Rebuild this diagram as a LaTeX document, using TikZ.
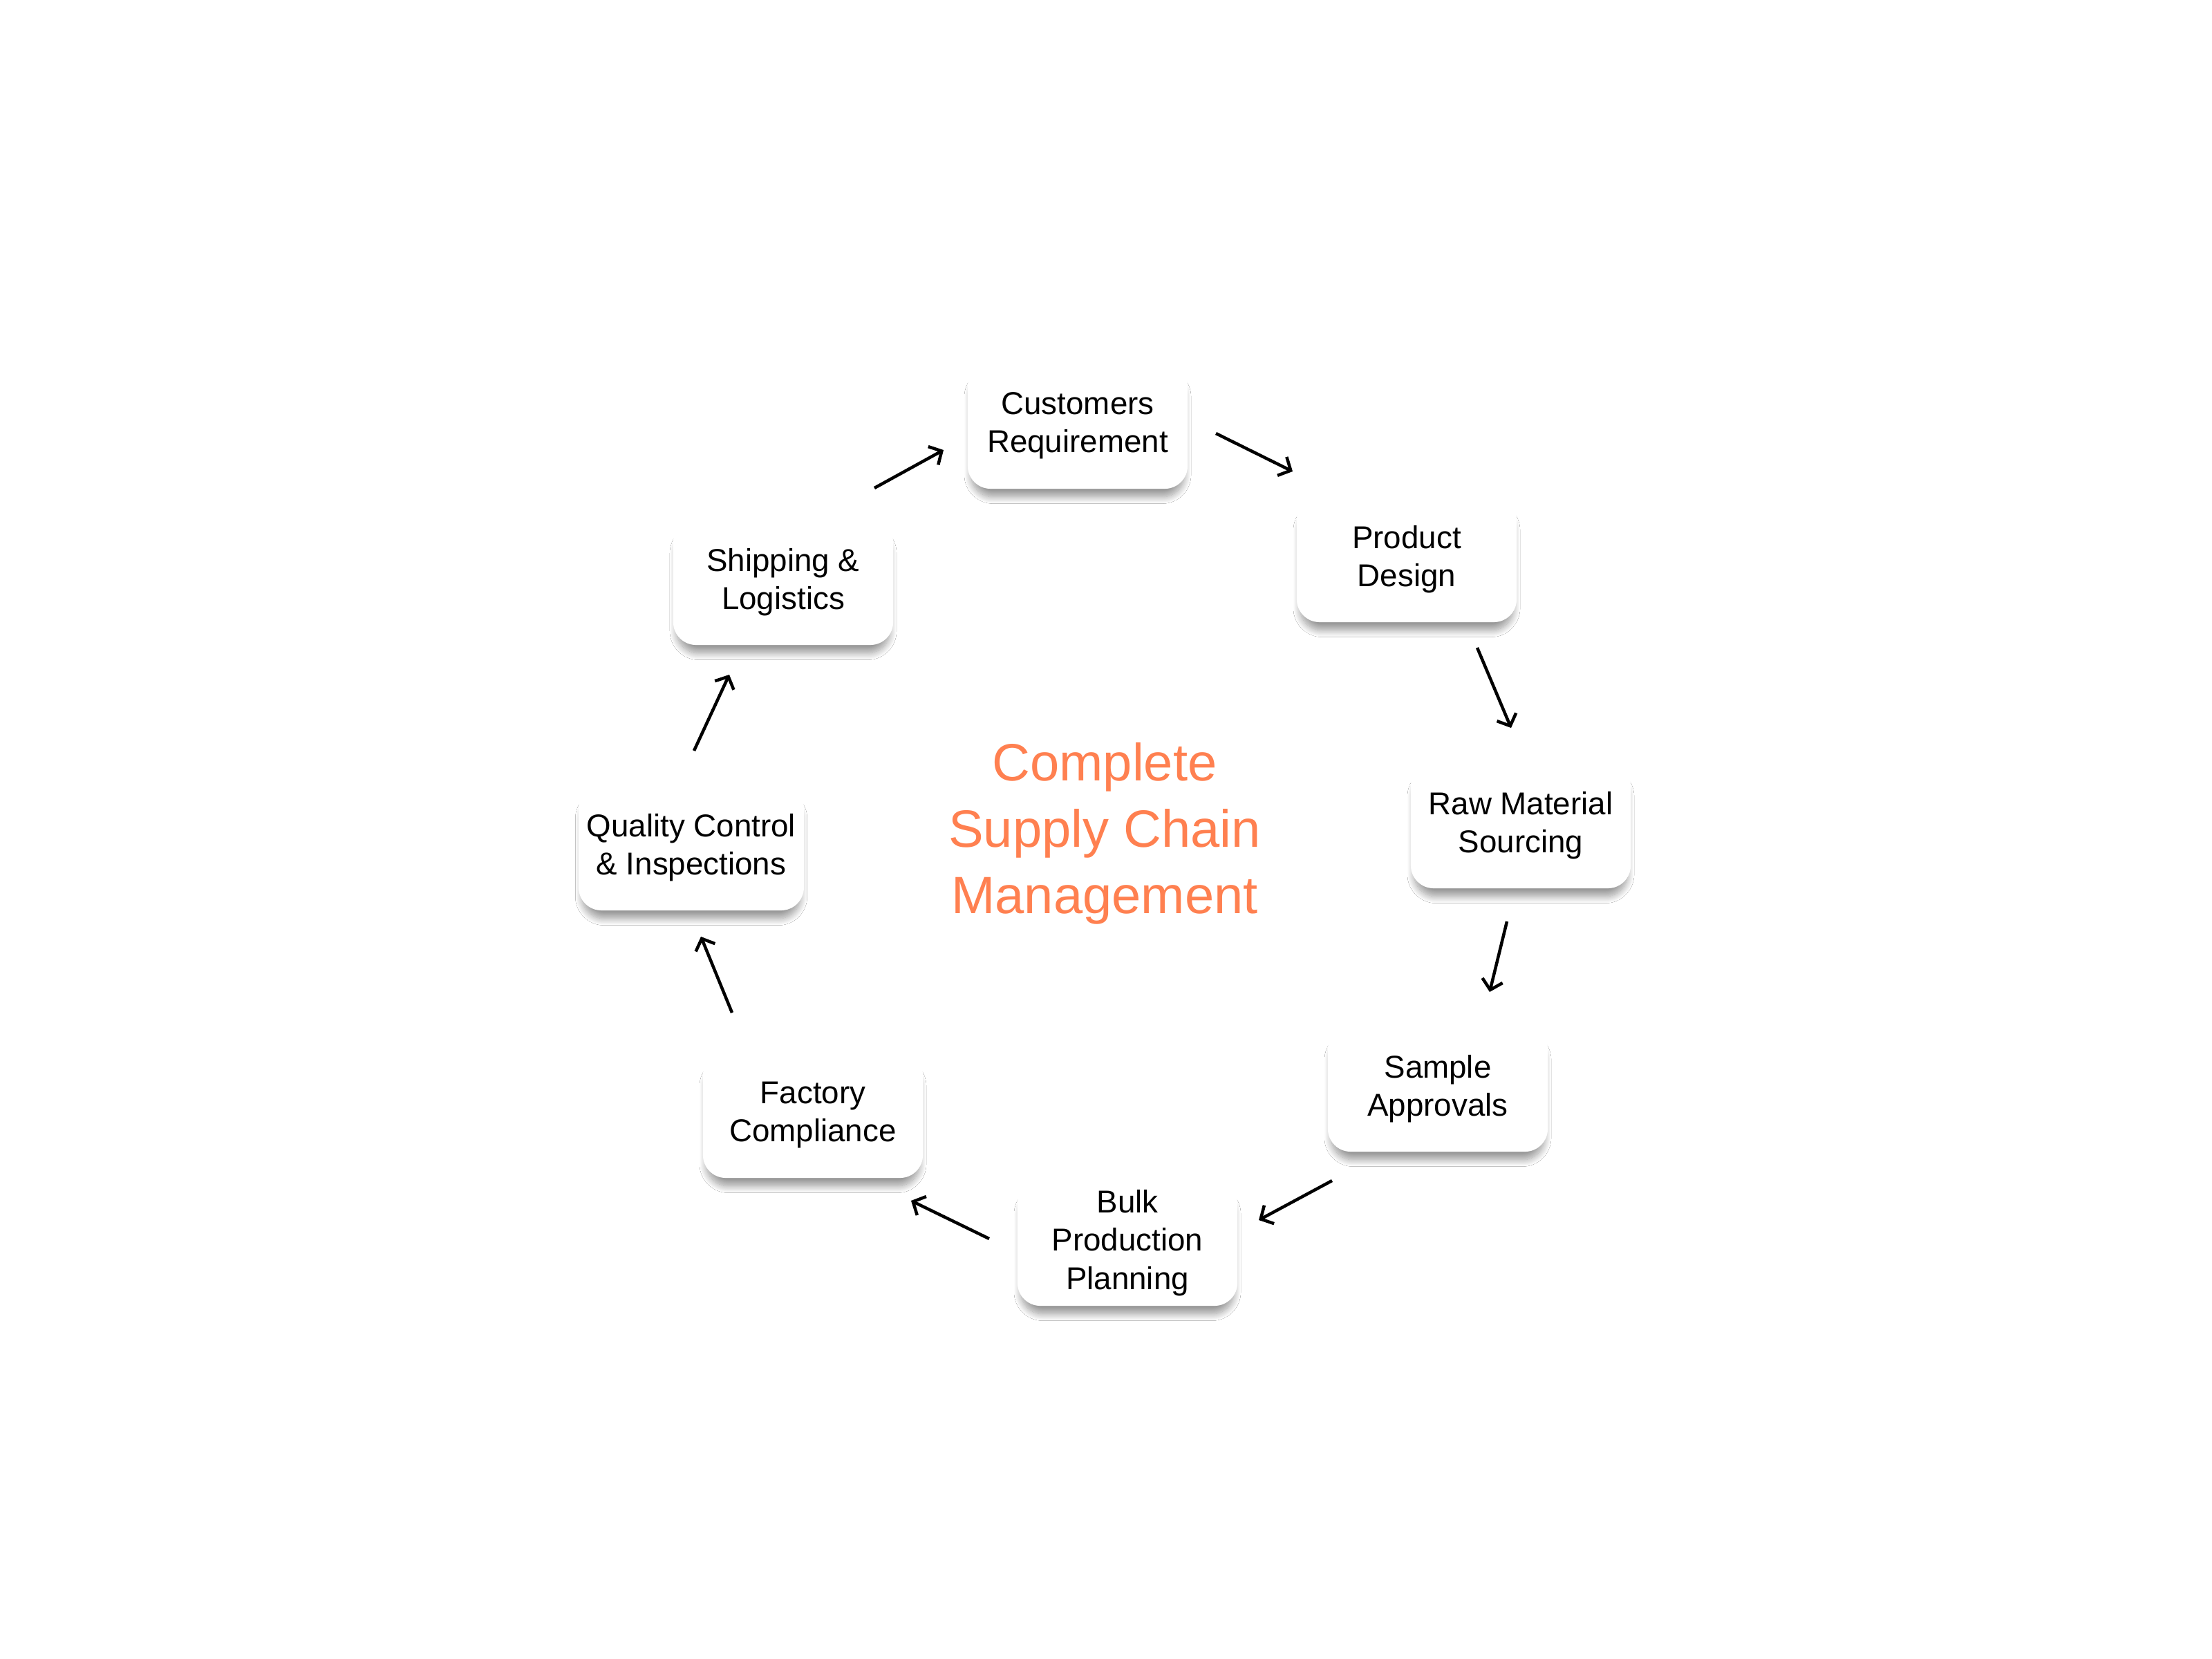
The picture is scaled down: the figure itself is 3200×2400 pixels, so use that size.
\documentclass[tikz,border=0pt]{standalone}
\usepackage{fontspec}
\setmainfont{Liberation Sans}
\usetikzlibrary{arrows.meta,shadows.blur}
\definecolor{coral}{RGB}{255,128,80}
\begin{document}
\begin{tikzpicture}[x=0.01cm,y=-0.01cm,
  stepbox/.style={rectangle, rounded corners=0.33cm, fill=white,
    minimum width=3.18cm, minimum height=1.82cm, align=center,
    font=\fontsize{13}{15.7}\selectfont,
    blur shadow={shadow xshift=0cm, shadow yshift=-0.15cm, shadow scale=0.97, shadow blur steps=14, shadow blur radius=0.1cm, shadow opacity=40}},
  arr/.style={line width=0.045cm, -{Straight Barb[length=0.14cm,width=0.3cm,line width=0.045cm]}},
  title/.style={text=coral, align=center, font=\fontsize{21.6}{27.3}\selectfont}]
\useasboundingbox (0,0) rectangle (3200,2400);
\fill[white] (0,0) rectangle (3200,2400);
\node[stepbox] (cust) at (1559,616) {Customers\\Requirement};
\node[stepbox] (prod) at (2035,809) {Product\\Design};
\node[stepbox] (raw) at (2200,1194) {Raw Material\\Sourcing};
\node[stepbox] (samp) at (2080,1575) {Sample\\Approvals};
\node[stepbox] (bulk) at (1631,1798) {Bulk\\Production\\Planning};
\node[stepbox] (fact) at (1176,1613) {Factory\\Compliance};
\node[stepbox] (qual) at (1000,1226) {Quality Control\\\& Inspections};
\node[stepbox] (ship) at (1133,842) {Shipping \&\\Logistics};
\node[title] (ttl) at (1598,1206) {Complete\\Supply Chain\\Management};
\coordinate (a1s) at (1759,627); \coordinate (a1e) at (1870,682);
\coordinate (a2s) at (2137,937); \coordinate (a2e) at (2186,1053);
\coordinate (a3s) at (2180,1333); \coordinate (a3e) at (2155,1435);
\coordinate (a4s) at (1927,1708); \coordinate (a4e) at (1821,1765);
\coordinate (a5s) at (1431,1792); \coordinate (a5e) at (1318,1737);
\coordinate (a6s) at (1059,1465); \coordinate (a6e) at (1014,1355);
\coordinate (a7s) at (1004,1086); \coordinate (a7e) at (1055,976);
\coordinate (a8s) at (1265,706); \coordinate (a8e) at (1365,651);
\draw[arr] (a1s) -- (a1e);
\draw[arr] (a2s) -- (a2e);
\draw[arr] (a3s) -- (a3e);
\draw[arr] (a4s) -- (a4e);
\draw[arr] (a5s) -- (a5e);
\draw[arr] (a6s) -- (a6e);
\draw[arr] (a7s) -- (a7e);
\draw[arr] (a8s) -- (a8e);
\end{tikzpicture}
\end{document}
